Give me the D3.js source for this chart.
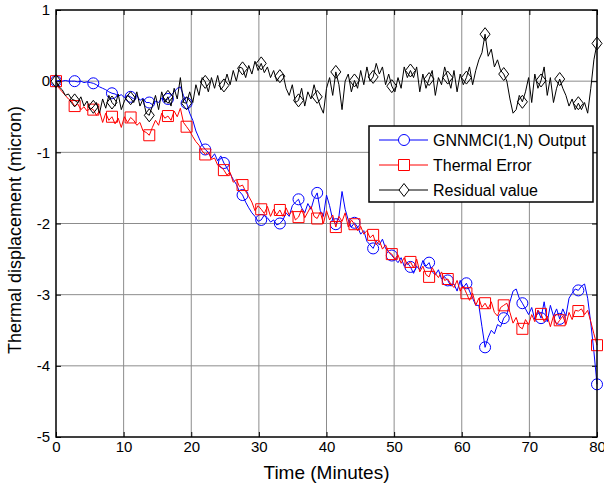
<!DOCTYPE html>
<html><head><meta charset="utf-8">
<script src="https://cdn.jsdelivr.net/npm/d3@7/dist/d3.min.js"></script>
<style>body{margin:0;background:#fff}svg{display:block}text{font-family:Arial,"Liberation Sans",sans-serif}</style>
</head><body><svg id="c" width="604" height="488"></svg>
<script>
// Data: 175 samples spanning 0..80 minutes; markers on every 6th sample
const timeStart = 0, timeEnd = 80, markerEvery = 6;
const outputValues = [0,
 0.01,0.0,0.01,0.0,0.0,0.0,
 -0.01,0.0,-0.02,-0.01,-0.02,-0.03,
 -0.05,-0.08,-0.1,-0.12,-0.15,-0.17,
 -0.18,-0.21,-0.19,-0.23,-0.2,-0.22,
 -0.25,-0.2,-0.27,-0.24,-0.3,-0.30,
 -0.33,-0.28,-0.3,-0.24,-0.27,-0.25,
 -0.2,-0.15,-0.1,-0.08,-0.2,-0.31,
 -0.45,-0.55,-0.7,-0.8,-0.9,-0.96,
 -1.0,-1.08,-1.02,-1.12,-1.05,-1.15,
 -1.22,-1.3,-1.38,-1.45,-1.55,-1.60,
 -1.7,-1.78,-1.85,-1.9,-1.97,-1.95,
 -1.88,-1.92,-1.98,-1.95,-2.02,-2.0,
 -1.95,-1.85,-1.9,-1.75,-1.7,-1.66,
 -1.78,-1.85,-1.72,-1.8,-1.65,-1.57,
 -1.82,-1.9,-1.6,-1.75,-1.95,-2.01,
 -1.9,-1.55,-1.8,-1.95,-2.05,-1.99,
 -2.05,-2.15,-2.1,-2.25,-2.3,-2.35,
 -2.25,-2.3,-2.22,-2.35,-2.4,-2.45,
 -2.5,-2.55,-2.48,-2.6,-2.55,-2.61,
 -2.7,-2.6,-2.65,-2.52,-2.6,-2.55,
 -2.68,-2.72,-2.65,-2.78,-2.75,-2.8,
 -2.88,-2.85,-2.95,-2.8,-2.9,-2.84,
 -2.95,-3.05,-3.15,-3.15,-3.45,-3.74,
 -3.6,-3.5,-3.55,-3.42,-3.45,-3.33,
 -3.28,-3.1,-2.95,-2.92,-3.05,-3.12,
 -3.2,-3.28,-3.18,-3.35,-3.22,-3.33,
 -3.1,-3.38,-3.15,-3.3,-3.2,-3.34,
 -3.2,-3.3,-3.05,-2.98,-2.92,-2.94,
 -2.88,-2.85,-3.05,-3.4,-3.8,-4.26];
const thermalValues = [0,
 -0.1,-0.15,-0.2,-0.25,-0.28,-0.35,
 -0.32,-0.4,-0.36,-0.42,-0.38,-0.40,
 -0.48,-0.42,-0.58,-0.45,-0.55,-0.50,
 -0.6,-0.52,-0.65,-0.5,-0.58,-0.51,
 -0.55,-0.62,-0.58,-0.7,-0.72,-0.76,
 -0.65,-0.55,-0.62,-0.45,-0.52,-0.49,
 -0.55,-0.42,-0.5,-0.38,-0.58,-0.64,
 -0.7,-0.78,-0.85,-0.9,-0.98,-1.03,
 -1.0,-1.1,-1.08,-1.18,-1.2,-1.25,
 -1.32,-1.28,-1.42,-1.38,-1.48,-1.46,
 -1.55,-1.62,-1.7,-1.82,-1.75,-1.80,
 -1.86,-1.76,-1.9,-1.8,-1.88,-1.81,
 -1.9,-1.78,-1.88,-1.82,-1.95,-1.91,
 -1.8,-1.92,-1.84,-1.76,-1.9,-1.93,
 -1.84,-2.0,-1.82,-1.95,-1.88,-2.05,
 -1.9,-1.97,-1.85,-2.05,-1.95,-2.01,
 -2.1,-2.04,-2.15,-2.1,-2.2,-2.16,
 -2.3,-2.24,-2.36,-2.3,-2.4,-2.43,
 -2.5,-2.44,-2.56,-2.48,-2.58,-2.54,
 -2.62,-2.5,-2.68,-2.6,-2.72,-2.75,
 -2.62,-2.7,-2.76,-2.68,-2.8,-2.78,
 -2.85,-2.9,-2.8,-2.95,-2.88,-2.98,
 -3.08,-2.98,-3.15,-3.05,-3.18,-3.12,
 -3.2,-3.1,-3.25,-3.3,-3.18,-3.15,
 -3.12,-3.25,-3.4,-3.32,-3.45,-3.48,
 -3.35,-3.42,-3.28,-3.38,-3.22,-3.27,
 -3.38,-3.3,-3.45,-3.3,-3.42,-3.36,
 -3.3,-3.42,-3.25,-3.35,-3.22,-3.23,
 -3.2,-3.28,-3.22,-3.38,-3.55,-3.71];
const residualValues = [0,
 -0.08,-0.12,-0.2,-0.18,-0.25,-0.27,
 -0.3,-0.22,-0.35,-0.28,-0.4,-0.36,
 -0.3,-0.45,-0.25,-0.38,-0.2,-0.3,
 -0.35,-0.18,-0.4,-0.28,-0.2,-0.24,
 -0.3,-0.15,-0.35,-0.25,-0.45,-0.48,
 -0.35,-0.2,-0.4,-0.15,-0.3,-0.22,
 -0.35,-0.1,-0.25,0.05,-0.3,-0.31,
 -0.15,-0.3,-0.05,-0.2,0.05,-0.01,
 -0.15,0.05,-0.1,0.08,-0.12,-0.06,
 0.1,-0.05,0.15,0.0,0.2,0.18,
 0.05,0.22,0.1,0.28,0.15,0.25,
 0.12,0.2,0.05,0.15,0.0,0.07,
 0.1,-0.1,-0.2,-0.05,-0.3,-0.27,
 -0.1,-0.35,-0.15,-0.25,-0.05,-0.22,
 -0.35,-0.45,-0.1,0.05,-0.2,0.13,
 -0.05,-0.4,0.0,0.1,-0.15,0.01,
 -0.1,0.15,-0.05,0.2,0.0,0.06,
 0.25,0.1,0.2,-0.05,0.1,-0.07,
 -0.15,0.05,-0.1,0.2,0.05,0.15,
 0.05,0.2,-0.15,0.1,-0.1,0.03,
 0.15,-0.2,0.05,-0.05,0.2,0.05,
 -0.1,0.15,-0.15,0.1,-0.05,0.05,
 0.2,-0.05,0.15,0.3,0.4,0.66,
 0.35,0.45,0.2,0.3,0.15,0.1,
 0.0,-0.25,-0.45,-0.4,-0.2,-0.29,
 -0.15,0.05,-0.3,0.1,-0.1,0.01,
 0.2,-0.2,0.05,-0.3,-0.1,0.03,
 -0.1,-0.2,-0.35,-0.25,-0.4,-0.31,
 -0.4,-0.3,-0.45,-0.1,0.3,0.53];
const xTicks = [0,10,20,30,40,50,60,70,80];
const yTicks = [-5,-4,-3,-2,-1,0,1];
const seriesNames = ["GNNMCI(1,N) Output","Thermal Error","Residual value"];
const seriesColors = ["#0000ff","#ff0000","#000000"];
const seriesMarkers = ["circle","square","diamond"];
const xLabel = "Time (Minutes)";
const yLabel = "Thermal displacement (micron)";

const svg = d3.select("#c");
const L=56, R=597, T=10, B=437;
const n = outputValues.length;
const tOf = i => timeStart + (timeEnd-timeStart)*i/(n-1);
const x = d3.scaleLinear().domain([0,80]).range([L,R]);
const y = d3.scaleLinear().domain([-5,1]).range([B,T]);
const fmt = d => String(d);

// grid
const g = svg.append("g");
g.selectAll(".gx").data(xTicks.slice(1,-1)).join("line")
 .attr("x1",d=>x(d)).attr("x2",d=>x(d)).attr("y1",T).attr("y2",B)
 .attr("stroke","#8c8c8c").attr("stroke-width",1);
g.selectAll(".gy").data(yTicks.slice(1,-1)).join("line")
 .attr("y1",d=>y(d)).attr("y2",d=>y(d)).attr("x1",L).attr("x2",R)
 .attr("stroke","#8c8c8c").attr("stroke-width",1);

// axes (ticks inward)
const ax = (gen, tr) => svg.append("g").attr("transform",tr).call(gen)
 .call(s=>s.select(".domain").remove());
const xb = ax(d3.axisBottom(x).tickValues(xTicks).tickSize(-5).tickPadding(10).tickFormat(fmt), `translate(0,${B})`);
const xt = ax(d3.axisTop(x).tickValues(xTicks).tickSize(-5).tickFormat(""), `translate(0,${T})`);
const yl = ax(d3.axisLeft(y).tickValues(yTicks).tickSize(-5).tickPadding(10).tickFormat(fmt), `translate(${L},0)`);
const yr = ax(d3.axisRight(y).tickValues(yTicks).tickSize(-5).tickFormat(""), `translate(${R},0)`);
[xb,xt,yl,yr].forEach(a=>{a.selectAll("line").attr("stroke","#000");
 a.selectAll("text").attr("font-size",15).attr("fill","#000").attr("font-family","Arial, 'Liberation Sans', sans-serif");});
xb.selectAll("text").attr("dy","0.3em");
yl.selectAll("text").attr("dx","4");

// series
const seriesData = [outputValues, thermalValues, residualValues];
const line = d3.line().x((d,i)=>x(tOf(i))).y(d=>y(d));
const markerPath = (type, cx, cy) => {
  if(type==="circle") return null;
  if(type==="square") return `M${cx-5.5},${cy-5.5}h11v11h-11z`;
  return `M${cx},${cy-6.5}L${cx+5},${cy}L${cx},${cy+6.5}L${cx-5},${cy}Z`;
};
seriesData.forEach((vals,k)=>{
  const sg = svg.append("g");
  sg.append("path").datum(vals).attr("d",line).attr("fill","none")
    .attr("stroke",seriesColors[k]).attr("stroke-width",1).attr("stroke-linejoin","round");
  const mk = vals.map((v,i)=>({i,v})).filter(d=>d.i%markerEvery===0);
  if(seriesMarkers[k]==="circle"){
    sg.selectAll("circle").data(mk).join("circle")
      .attr("cx",d=>x(tOf(d.i))).attr("cy",d=>y(d.v)).attr("r",5.5)
      .attr("fill","none").attr("stroke",seriesColors[k]).attr("stroke-width",1);
  } else {
    sg.selectAll("path.m").data(mk).join("path").attr("class","m")
      .attr("d",d=>markerPath(seriesMarkers[k],x(tOf(d.i)),y(d.v)))
      .attr("fill","none").attr("stroke",seriesColors[k]).attr("stroke-width",1);
  }
});

// box
svg.append("rect").attr("x",L).attr("y",T).attr("width",R-L).attr("height",B-T)
 .attr("fill","none").attr("stroke","#000").attr("stroke-width",1.5);

// labels
svg.append("text").attr("x",(L+R)/2).attr("y",479).attr("text-anchor","middle")
 .attr("font-size",19).text(xLabel);
svg.append("text").attr("transform",`translate(21,230) rotate(-90)`)
 .attr("text-anchor","middle").attr("font-size",18).text(yLabel);

// legend
const lg = svg.append("g");
lg.append("rect").attr("x",369).attr("y",126).attr("width",224).attr("height",76)
 .attr("fill","#fff").attr("stroke","#000").attr("stroke-width",1.5);
seriesNames.forEach((nm,k)=>{
  const yy = 140 + k*25;
  lg.append("line").attr("x1",379).attr("x2",428).attr("y1",yy).attr("y2",yy)
    .attr("stroke",seriesColors[k]).attr("stroke-width",1);
  if(seriesMarkers[k]==="circle")
    lg.append("circle").attr("cx",404).attr("cy",yy).attr("r",5.5).attr("fill","#fff").attr("stroke",seriesColors[k]);
  else
    lg.append("path").attr("d",markerPath(seriesMarkers[k],404,yy)).attr("fill","#fff").attr("stroke",seriesColors[k]);
  lg.append("text").attr("x",433).attr("y",yy+6).attr("font-size",16).text(nm);
});
</script></body></html>
